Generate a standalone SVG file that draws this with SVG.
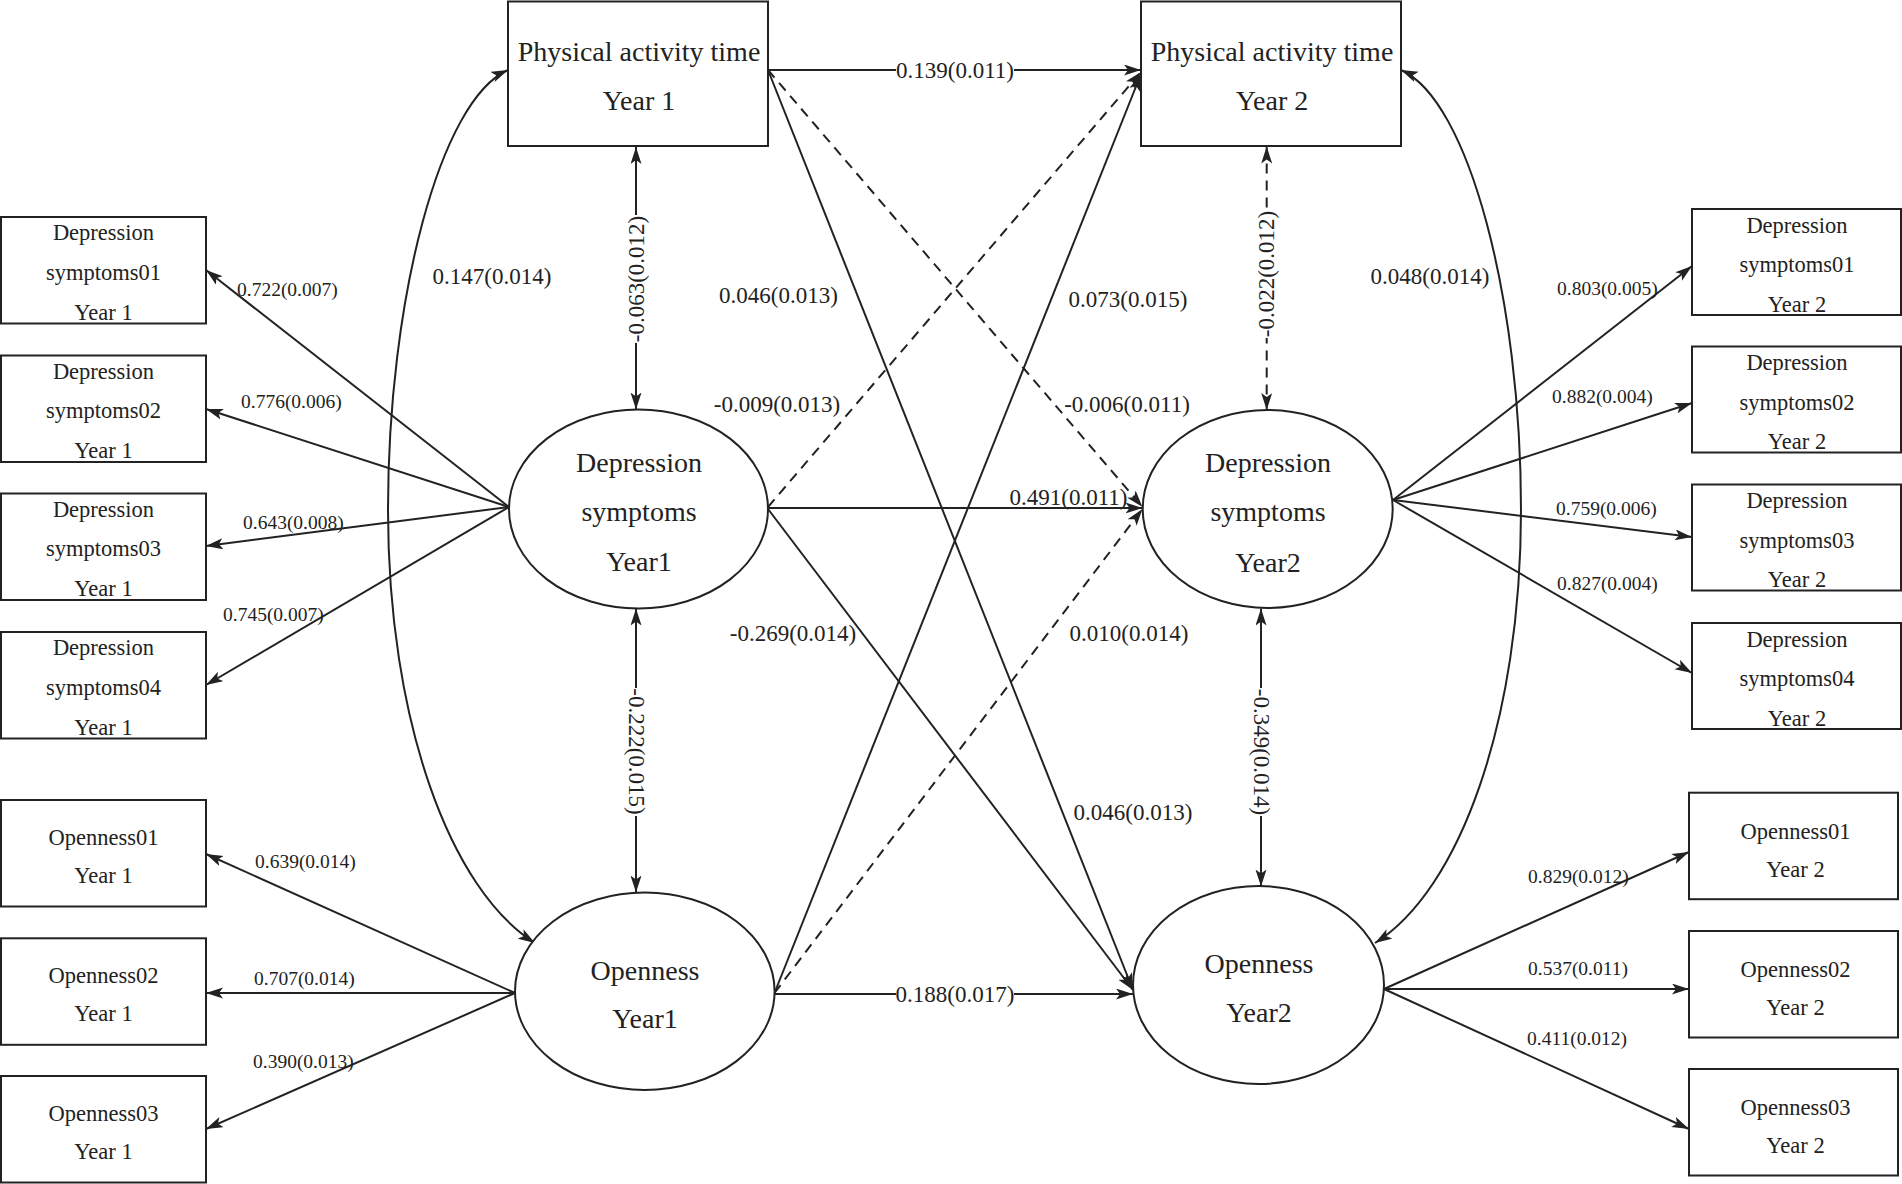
<svg xmlns="http://www.w3.org/2000/svg" width="1902" height="1184" viewBox="0 0 1902 1184">
<style>
.box{fill:#fff;stroke:#222;stroke-width:2}
.ell{fill:#fff;stroke:#222;stroke-width:2}
.ln{fill:none;stroke:#222;stroke-width:2}
.ds{fill:none;stroke:#222;stroke-width:2;stroke-dasharray:10,7}
.arr{marker-end:url(#ah)}
.both{marker-start:url(#ah);marker-end:url(#ah)}
.bg{fill:#fff;stroke:none}
text{font-family:"Liberation Serif","Times New Roman",serif;fill:#222}
.nt{font-size:28px;text-anchor:middle}
.bt{font-size:22.5px;text-anchor:middle}
.sl{font-size:19.5px}
.ml{font-size:23px;text-anchor:middle}
</style>
<defs>
<marker id="ah" markerUnits="userSpaceOnUse" markerWidth="18" markerHeight="12" refX="17" refY="5.5" orient="auto-start-reverse" viewBox="0 0 18 12">
<path d="M0,0 L17,5.5 L0,11 L4,5.5 z" fill="#222" stroke="none"/>
</marker>
</defs>
<rect width="1902" height="1184" fill="#fff"/>

<g id="connectors">
<!-- fans -->
<line class="ln arr" x1="509" y1="507" x2="206" y2="270"/>
<line class="ln arr" x1="509" y1="507" x2="206" y2="409"/>
<line class="ln arr" x1="509" y1="507" x2="206" y2="546"/>
<line class="ln arr" x1="509" y1="507" x2="206" y2="685"/>
<line class="ln arr" x1="515" y1="993" x2="206" y2="854"/>
<line class="ln arr" x1="515" y1="993" x2="206" y2="993"/>
<line class="ln arr" x1="515" y1="993" x2="206" y2="1129"/>
<line class="ln arr" x1="1393" y1="500" x2="1692" y2="266"/>
<line class="ln arr" x1="1393" y1="500" x2="1692" y2="403"/>
<line class="ln arr" x1="1393" y1="500" x2="1692" y2="537"/>
<line class="ln arr" x1="1393" y1="500" x2="1692" y2="673"/>
<line class="ln arr" x1="1384" y1="989" x2="1689" y2="852"/>
<line class="ln arr" x1="1384" y1="989" x2="1689" y2="989"/>
<line class="ln arr" x1="1384" y1="989" x2="1689" y2="1129"/>
<!-- curves -->
<path class="ln both" d="M508,70 C440,100 388,300 388,510 C388,720 450,890 535,943"/>
<path class="ln both" d="M1401,70 C1469,100 1521,300 1521,510 C1521,720 1460,890 1375,943"/>
<!-- vertical correlations -->
<line class="ln both" x1="636" y1="147" x2="636" y2="409.5"/>
<line class="ln both" x1="636" y1="608.5" x2="636" y2="892.5"/>
<line class="ds both" x1="1266.7" y1="146.5" x2="1266.7" y2="410"/>
<line class="ln both" x1="1261" y1="608.5" x2="1261" y2="886.5"/>
<!-- cross paths -->
<line class="ln arr" x1="768" y1="70" x2="1141" y2="70"/>
<line class="ds arr" x1="768" y1="70" x2="1142.5" y2="507"/>
<line class="ln arr" x1="768" y1="70" x2="1133" y2="990"/>
<line class="ds arr" x1="768" y1="507" x2="1141" y2="72"/>
<line class="ln arr" x1="768" y1="508" x2="1142.5" y2="508"/>
<line class="ln arr" x1="768" y1="509" x2="1133" y2="990"/>
<line class="ln arr" x1="774.5" y1="993" x2="1141" y2="74"/>
<line class="ds arr" x1="774.5" y1="993" x2="1142.5" y2="509"/>
<line class="ln arr" x1="774.5" y1="994" x2="1133" y2="994"/>
<!-- label backgrounds that break lines -->
<rect class="bg" x="896" y="58" width="118" height="24"/>
<rect class="bg" x="896" y="982" width="118" height="24"/>
<rect class="bg" x="627" y="215" width="18" height="128"/>
<rect class="bg" x="1258" y="210" width="18" height="128"/>
<rect class="bg" x="627" y="688" width="18" height="128"/>
<rect class="bg" x="1252" y="688" width="18" height="128"/>
<!-- labels -->
<text class="sl" x="237" y="296">0.722(0.007)</text>
<text class="sl" x="241" y="408">0.776(0.006)</text>
<text class="sl" x="243" y="528.5">0.643(0.008)</text>
<text class="sl" x="223" y="621">0.745(0.007)</text>
<text class="sl" x="255" y="868">0.639(0.014)</text>
<text class="sl" x="254" y="985">0.707(0.014)</text>
<text class="sl" x="253" y="1068">0.390(0.013)</text>
<text class="sl" x="1557" y="295">0.803(0.005)</text>
<text class="sl" x="1552" y="403">0.882(0.004)</text>
<text class="sl" x="1556" y="515">0.759(0.006)</text>
<text class="sl" x="1557" y="590">0.827(0.004)</text>
<text class="sl" x="1528" y="883">0.829(0.012)</text>
<text class="sl" x="1528" y="975">0.537(0.011)</text>
<text class="sl" x="1527" y="1045">0.411(0.012)</text>
<text class="ml" x="492" y="284">0.147(0.014)</text>
<text class="ml" x="1430" y="284">0.048(0.014)</text>
<text class="ml" x="778.5" y="303">0.046(0.013)</text>
<text class="ml" x="1128" y="307">0.073(0.015)</text>
<text class="ml" x="777" y="412">-0.009(0.013)</text>
<text class="ml" x="1127" y="412">-0.006(0.011)</text>
<text class="ml" x="1068.5" y="504.5">0.491(0.011)</text>
<text class="ml" x="793" y="641">-0.269(0.014)</text>
<text class="ml" x="1129" y="641">0.010(0.014)</text>
<text class="ml" x="1133" y="819.5">0.046(0.013)</text>
<text class="ml" x="955" y="78">0.139(0.011)</text>
<text class="ml" x="955" y="1002">0.188(0.017)</text>
<text class="ml" transform="translate(643.5,279) rotate(-90)">-0.063(0.012)</text>
<text class="ml" transform="translate(1274,274) rotate(-90)">-0.022(0.012)</text>
<text class="ml" transform="translate(628.5,751.5) rotate(90)">-0.222(0.015)</text>
<text class="ml" transform="translate(1253.5,752) rotate(90)">-0.349(0.014)</text>
</g>

<g id="pa1"><rect class="box" x="508" y="1.5" width="260" height="144.5"/>
<text class="nt" x="639" y="61">Physical activity time</text><text class="nt" x="639" y="110">Year 1</text></g>
<g id="pa2"><rect class="box" x="1141" y="1.5" width="260" height="144.5"/>
<text class="nt" x="1272" y="61">Physical activity time</text><text class="nt" x="1272" y="110">Year 2</text></g>

<g id="ds1"><ellipse class="ell" cx="638.5" cy="509" rx="129.5" ry="99.5"/>
<text class="nt" x="639" y="472">Depression</text><text class="nt" x="639" y="521">symptoms</text><text class="nt" x="639" y="571">Year1</text></g>
<g id="ds2"><ellipse class="ell" cx="1267.7" cy="509" rx="125" ry="99"/>
<text class="nt" x="1268" y="472">Depression</text><text class="nt" x="1268" y="521">symptoms</text><text class="nt" x="1268" y="572">Year2</text></g>
<g id="op1"><ellipse class="ell" cx="644.8" cy="991.3" rx="129.8" ry="98.7"/>
<text class="nt" x="645" y="980">Openness</text><text class="nt" x="645" y="1028">Year1</text></g>
<g id="op2"><ellipse class="ell" cx="1258.5" cy="985" rx="125.5" ry="99"/>
<text class="nt" x="1259" y="973">Openness</text><text class="nt" x="1259" y="1022">Year2</text></g>

<g id="ds1_01"><rect class="box" x="1" y="217" width="205" height="106.5"/>
<text class="bt" x="103.5" y="240">Depression</text><text class="bt" x="103.5" y="279.5">symptoms01</text><text class="bt" x="103.5" y="319.5">Year 1</text></g>
<g id="ds1_02"><rect class="box" x="1" y="355.5" width="205" height="106.5"/>
<text class="bt" x="103.5" y="378.5">Depression</text><text class="bt" x="103.5" y="418">symptoms02</text><text class="bt" x="103.5" y="458">Year 1</text></g>
<g id="ds1_03"><rect class="box" x="1" y="493.5" width="205" height="106.5"/>
<text class="bt" x="103.5" y="516.5">Depression</text><text class="bt" x="103.5" y="556">symptoms03</text><text class="bt" x="103.5" y="596">Year 1</text></g>
<g id="ds1_04"><rect class="box" x="1" y="632" width="205" height="106.5"/>
<text class="bt" x="103.5" y="655">Depression</text><text class="bt" x="103.5" y="694.5">symptoms04</text><text class="bt" x="103.5" y="734.5">Year 1</text></g>

<g id="op1_01"><rect class="box" x="1" y="800" width="205" height="106.5"/>
<text class="bt" x="103.5" y="845">Openness01</text><text class="bt" x="103.5" y="883">Year 1</text></g>
<g id="op1_02"><rect class="box" x="1" y="938.3" width="205" height="106.5"/>
<text class="bt" x="103.5" y="983.3">Openness02</text><text class="bt" x="103.5" y="1021.3">Year 1</text></g>
<g id="op1_03"><rect class="box" x="1" y="1076" width="205" height="106.5"/>
<text class="bt" x="103.5" y="1121">Openness03</text><text class="bt" x="103.5" y="1159">Year 1</text></g>

<g id="ds2_01"><rect class="box" x="1692" y="209" width="209" height="106"/>
<text class="bt" x="1797" y="232.5">Depression</text><text class="bt" x="1797" y="272">symptoms01</text><text class="bt" x="1797" y="311.5">Year 2</text></g>
<g id="ds2_02"><rect class="box" x="1692" y="346.5" width="209" height="106"/>
<text class="bt" x="1797" y="370">Depression</text><text class="bt" x="1797" y="409.5">symptoms02</text><text class="bt" x="1797" y="449">Year 2</text></g>
<g id="ds2_03"><rect class="box" x="1692" y="484.5" width="209" height="106"/>
<text class="bt" x="1797" y="508">Depression</text><text class="bt" x="1797" y="547.5">symptoms03</text><text class="bt" x="1797" y="587">Year 2</text></g>
<g id="ds2_04"><rect class="box" x="1692" y="623" width="209" height="106"/>
<text class="bt" x="1797" y="646.5">Depression</text><text class="bt" x="1797" y="686">symptoms04</text><text class="bt" x="1797" y="725.5">Year 2</text></g>

<g id="op2_01"><rect class="box" x="1689" y="792.7" width="209" height="106.5"/>
<text class="bt" x="1795.5" y="838.7">Openness01</text><text class="bt" x="1795.5" y="876.7">Year 2</text></g>
<g id="op2_02"><rect class="box" x="1689" y="931" width="209" height="106.5"/>
<text class="bt" x="1795.5" y="977">Openness02</text><text class="bt" x="1795.5" y="1015">Year 2</text></g>
<g id="op2_03"><rect class="box" x="1689" y="1069" width="209" height="106.5"/>
<text class="bt" x="1795.5" y="1115">Openness03</text><text class="bt" x="1795.5" y="1153">Year 2</text></g>
</svg>
